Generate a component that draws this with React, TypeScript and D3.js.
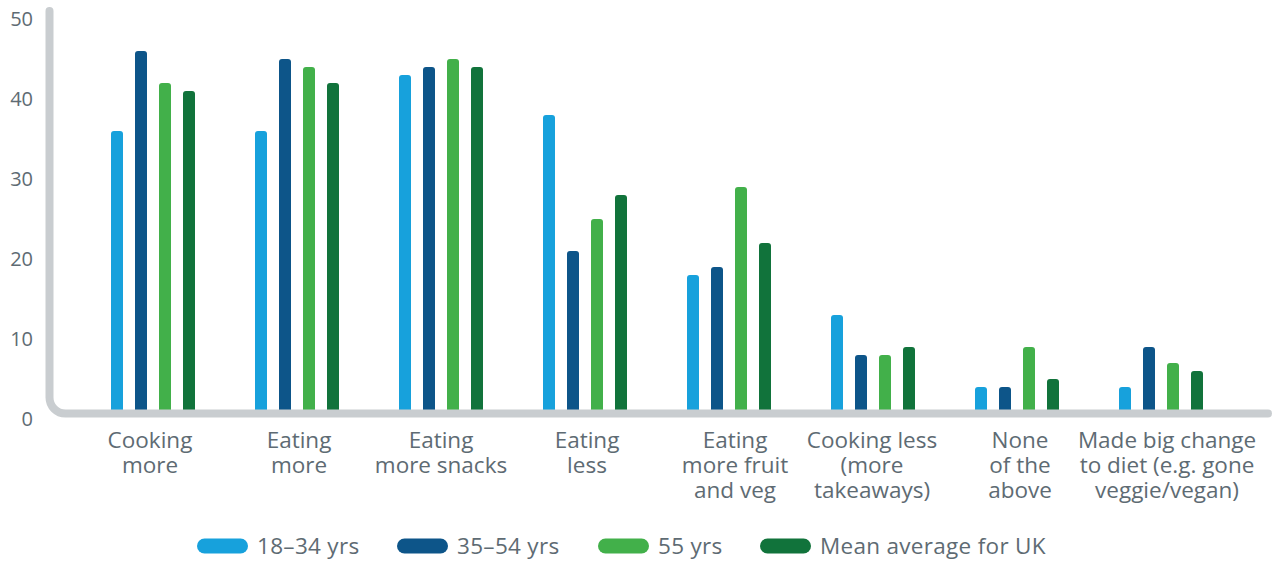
import React from "react";
import * as d3 from "d3";

const categories: string[][] = [
  ["Cooking", "more"],
  ["Eating", "more"],
  ["Eating", "more snacks"],
  ["Eating", "less"],
  ["Eating", "more fruit", "and veg"],
  ["Cooking less", "(more", "takeaways)"],
  ["None", "of the", "above"],
  ["Made big change", "to diet (e.g. gone", "veggie/vegan)"],
];

const seriesNames = ["18–34 yrs", "35–54 yrs", "55 yrs", "Mean average for UK"];
const age18to34 = [36, 36, 43, 38, 18, 13, 4, 4];
const age35to54 = [46, 45, 44, 21, 19, 8, 4, 9];
const age55 = [42, 44, 45, 25, 29, 8, 9, 7];
const meanUK = [41, 42, 44, 28, 22, 9, 5, 6];
const yTicks = [0, 10, 20, 30, 40, 50];

const seriesValues = [age18to34, age35to54, age55, meanUK];
const colors = ["#17a1dc", "#0d5589", "#42b04a", "#11733b"];
const textColor = "#5e6b73";
const axisColor = "#c9cdd0";
const FONT = "'Open Sans', 'Noto Sans', sans-serif";

const W = 1273;
const H = 561;
const legendX = [197, 397, 598, 760];
const labelShift = [-3, 2, 0, 2, 6, -1, 3, 6];

export default function App() {
  const keys = categories.map((c) => c.join(" "));
  const x = d3.scaleBand<string>().domain(keys).range([81, 1233]);
  const xi = d3
    .scaleBand<string>()
    .domain(seriesNames)
    .range([24, 24 + 24 * seriesNames.length]);
  const y = d3.scaleLinear().domain([0, 50]).range([419, 19]);
  const barW = 12;
  const r = 3;
  const base = 414;

  const barPath = (x0: number, top: number) => {
    const p = d3.path();
    p.moveTo(x0, base);
    p.lineTo(x0, top + r);
    p.arcTo(x0, top, x0 + r, top, r);
    p.lineTo(x0 + barW - r, top);
    p.arcTo(x0 + barW, top, x0 + barW, top + r, r);
    p.lineTo(x0 + barW, base);
    p.closePath();
    return p.toString();
  };

  const axX = 49.5;
  const axY = 413.5;
  const cr = 16;
  const axis = d3.path();
  axis.moveTo(axX, 11);
  axis.lineTo(axX, axY - cr);
  axis.arcTo(axX, axY, axX + cr, axY, cr);
  axis.lineTo(1268, axY);

  return (
    <svg
      width={W}
      height={H}
      style={{ position: "absolute", left: 0, top: 0, background: "#fff" }}
      fontFamily={FONT}
    >
      {yTicks.map((t) => (
        <text
          key={t}
          x={33}
          y={y(t)}
          dy="0.35em"
          textAnchor="end"
          fontSize={20}
          fill={textColor}
        >
          {t}
        </text>
      ))}
      {keys.map((k, ci) =>
        seriesNames.map((s, si) => (
          <path
            key={k + s}
            d={barPath(
              (x(k) as number) + (xi(s) as number) + (xi.bandwidth() - barW) / 2,
              y(seriesValues[si][ci])
            )}
            fill={colors[si]}
          />
        ))
      )}
      <path
        d={axis.toString()}
        fill="none"
        stroke={axisColor}
        strokeWidth={8}
        strokeLinecap="round"
      />
      {categories.map((lines, ci) => {
        const cx = (x(keys[ci]) as number) + x.bandwidth() / 2 + labelShift[ci];
        return (
          <text
            key={ci}
            x={cx}
            y={448}
            textAnchor="middle"
            fontSize={22.5}
            fill={textColor}
          >
            {lines.map((l, li) => (
              <tspan key={li} x={cx} dy={li === 0 ? 0 : 25}>
                {l}
              </tspan>
            ))}
          </text>
        );
      })}
      {seriesNames.map((s, si) => (
        <g key={s} transform={`translate(${legendX[si]},546)`}>
          <rect x={0} y={-7.5} width={51} height={15} rx={7.5} fill={colors[si]} />
          <text x={60} y={0} dy="0.35em" fontSize={22.5} fill={textColor} letterSpacing={0.3}>
            {s}
          </text>
        </g>
      ))}
    </svg>
  );
}
